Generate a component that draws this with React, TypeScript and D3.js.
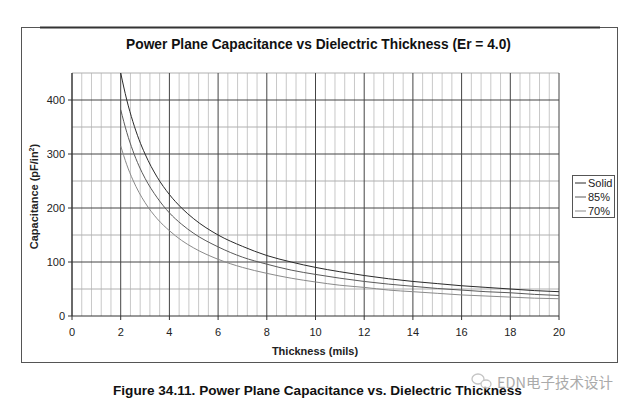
import React from "react";
import * as d3 from "d3";

const thickness = [2, 2.25, 2.5, 2.75, 3, 3.5, 4, 4.5, 5, 6, 7, 8, 9, 10, 11, 12, 13, 14, 15, 16, 17, 18, 19, 20];
const solidValues = [450, 400, 360, 327, 300, 257, 225, 200, 180, 150, 129, 112, 100, 90, 82, 75, 69, 64, 60, 56, 53, 50, 47, 45];
const p85Values = [382, 340, 306, 278, 255, 219, 191, 170, 153, 128, 109, 96, 85, 77, 70, 64, 59, 55, 51, 48, 45, 43, 40, 38];
const p70Values = [315, 280, 252, 229, 210, 180, 158, 140, 126, 105, 90, 79, 70, 63, 57, 53, 48, 45, 42, 39, 37, 35, 33, 32];
const seriesNames = ["Solid", "85%", "70%"];
const xTicks = [0, 2, 4, 6, 8, 10, 12, 14, 16, 18, 20];
const yTicks = [0, 100, 200, 300, 400];

const W = 640;
const H = 413;
const left = 72;
const right = 559;
const top = 73;
const bottom = 316;
const font = "'Liberation Sans', Arial, sans-serif";

export default function App() {
  const x = d3.scaleLinear().domain([0, 20]).range([left, right]);
  const y = d3.scaleLinear().domain([0, 450]).range([bottom, top]);
  const series = [
    { name: seriesNames[0], values: solidValues, color: "#2a2a2a" },
    { name: seriesNames[1], values: p85Values, color: "#5a5a5a" },
    { name: seriesNames[2], values: p70Values, color: "#8a8a8a" },
  ];
  const line = d3
    .line<[number, number]>()
    .x((d) => x(d[0]))
    .y((d) => y(d[1]))
    .curve(d3.curveMonotoneX);

  const minorX = d3.range(0, 20.001, 0.4).filter((v) => Math.abs(v / 2 - Math.round(v / 2)) > 0.01);
  const majorX = d3.range(0, 20.001, 2);
  const minorY = d3.range(50, 451, 100);
  const majorY = d3.range(100, 401, 100);

  return (
    <svg width={W} height={H} style={{ position: "absolute", left: 0, top: 0, background: "#fff" }}>
      <rect x={0} y={0} width={W} height={H} fill="#fff" />
      {/* outer frame */}
      <rect x={21.5} y={27.5} width={596} height={335} fill="none" stroke="#555" strokeWidth={1} />
      <line x1={40} x2={600} y1={27.5} y2={27.5} stroke="#333" strokeWidth={2} />
      {/* title */}
      <text x={318.5} y={48.5} textAnchor="middle" fontFamily={font} fontWeight="bold" fontSize={13.75} fill="#111">
        Power Plane Capacitance vs Dielectric Thickness (Er = 4.0)
      </text>
      {/* grid */}
      {minorX.map((v) => (
        <line key={"mx" + v} x1={x(v)} x2={x(v)} y1={top} y2={bottom} stroke="#c8c8c8" strokeWidth={1} />
      ))}
      {minorY.map((v) => (
        <line key={"my" + v} x1={left} x2={right} y1={y(v)} y2={y(v)} stroke="#b0b0b0" strokeWidth={1} />
      ))}
      {majorY.map((v) => (
        <line key={"My" + v} x1={left} x2={right} y1={y(v)} y2={y(v)} stroke="#444" strokeWidth={1} />
      ))}
      {majorX.map((v) => (
        <line key={"Mx" + v} x1={x(v)} x2={x(v)} y1={top} y2={bottom} stroke="#444" strokeWidth={1} />
      ))}
      {/* axes */}
      <line x1={left} x2={right} y1={bottom} y2={bottom} stroke="#333" strokeWidth={1} />
      <line x1={left} x2={left} y1={top} y2={bottom} stroke="#333" strokeWidth={1} />
      {xTicks.map((v) => (
        <line key={"xt" + v} x1={x(v)} x2={x(v)} y1={bottom} y2={bottom + 4} stroke="#333" />
      ))}
      {yTicks.map((v) => (
        <line key={"yt" + v} x1={left - 4} x2={left} y1={y(v)} y2={y(v)} stroke="#333" />
      ))}
      {xTicks.map((v) => (
        <text key={"xl" + v} x={x(v)} y={bottom + 20} textAnchor="middle" fontFamily={font} fontSize={11} fill="#222">
          {v}
        </text>
      ))}
      {yTicks.map((v) => (
        <text key={"yl" + v} x={left - 7} y={y(v) + 4} textAnchor="end" fontFamily={font} fontSize={11} fill="#222">
          {v}
        </text>
      ))}
      <text x={315} y={355} textAnchor="middle" fontFamily={font} fontWeight="bold" fontSize={11} fill="#222">
        Thickness (mils)
      </text>
      <text
        transform={`translate(38,${(top + bottom) / 2 + 2}) rotate(-90)`}
        textAnchor="middle"
        fontFamily={font}
        fontWeight="bold"
        fontSize={11}
        fill="#222"
      >
        Capacitance (pF/in<tspan fontSize={7} dy={-4}>2</tspan>
        <tspan dy={4}>)</tspan>
      </text>
      {/* series */}
      {series.map((s) => (
        <path
          key={s.name}
          d={line(thickness.map((t, i) => [t, s.values[i]] as [number, number])) || ""}
          fill="none"
          stroke={s.color}
          strokeWidth={1}
        />
      ))}
      {/* legend */}
      <rect x={572.5} y={175.5} width={42} height={42} fill="#fff" stroke="#555" />
      {series.map((s, i) => (
        <g key={"lg" + s.name}>
          <line x1={575} x2={586} y1={183 + i * 14} y2={183 + i * 14} stroke={s.color} />
          <text x={588} y={187 + i * 14} fontFamily={font} fontSize={11} fill="#222">
            {s.name}
          </text>
        </g>
      ))}
      {/* caption */}
      <text x={113} y={395} fontFamily={font} fontWeight="bold" fontSize={13.6} fill="#111">
        Figure 34.11. Power Plane Capacitance vs. Dielectric Thickness
      </text>
      {/* watermark */}
      <g opacity={0.85}>
        <ellipse cx={478} cy={379} rx={6} ry={5} fill="#fff" stroke="#bbb" strokeWidth={1.3} />
        <ellipse cx={486} cy={384} rx={5} ry={4} fill="#fff" stroke="#bbb" strokeWidth={1.3} />
      </g>
      <text x={497} y={388} fontFamily="'Noto Sans CJK SC', sans-serif" fontSize={14.5} fill="#aaa">
        EDN电子技术设计
      </text>
    </svg>
  );
}
